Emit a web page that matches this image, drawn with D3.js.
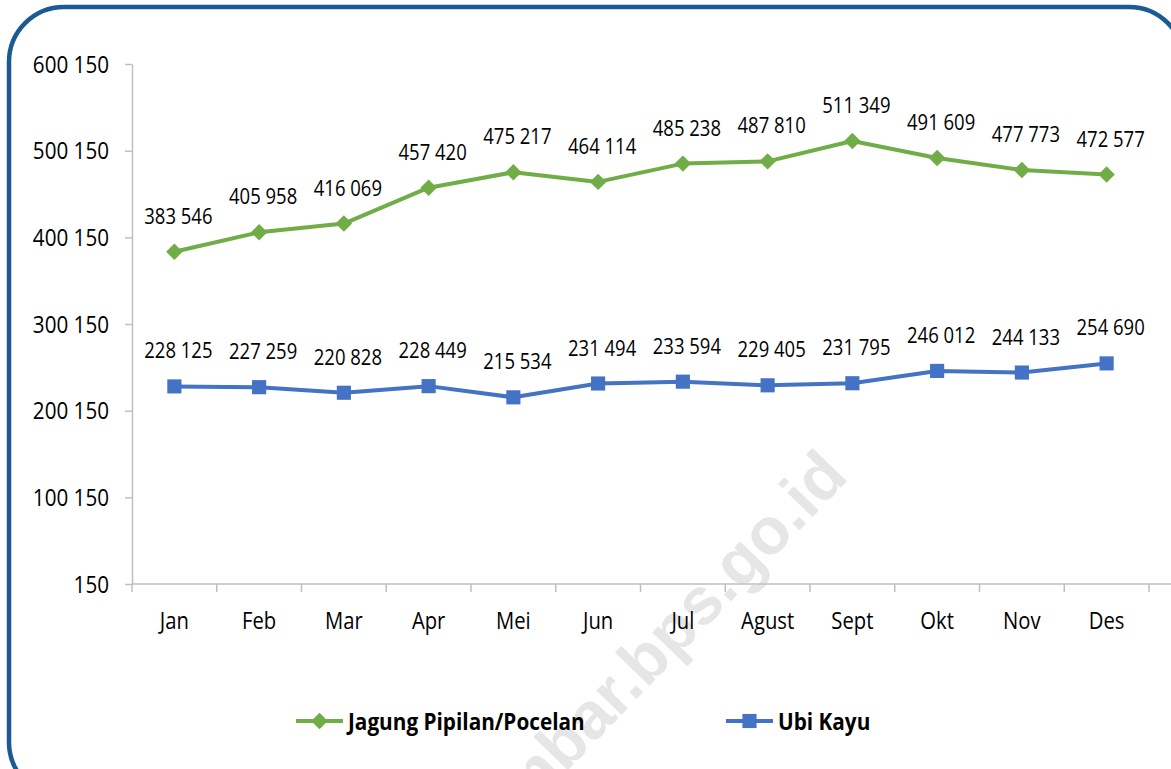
<!DOCTYPE html>
<html><head><meta charset="utf-8">
<script src="https://cdn.jsdelivr.net/npm/d3@7"></script>
<style>
body{margin:0;background:#fff}
svg{display:block}
text{font-family:"Open Sans","Noto Sans",sans-serif}
</style>
</head><body>
<svg id="c" width="1171" height="769"></svg>
<script>
const months = ["Jan","Feb","Mar","Apr","Mei","Jun","Jul","Agust","Sept","Okt","Nov","Des"];
const jagung = [383546,405958,416069,457420,475217,464114,485238,487810,511349,491609,477773,472577];
const ubiKayu = [228125,227259,220828,228449,215534,231494,233594,229405,231795,246012,244133,254690];
const yTicks = [150,100150,200150,300150,400150,500150,600150];
const seriesNames = ["Jagung Pipilan/Pocelan","Ubi Kayu"];

const svg = d3.select("#c");
const W = 1171, H = 769;
const fmt = d3.formatLocale({thousands:" ",grouping:[3],decimal:".",currency:["",""]}).format(",");

function label(g, x, y, txt, anchor, fs, sx, bold) {
  return g.append("text")
    .attr("transform", `translate(${x},${y}) scale(${sx},1)`)
    .attr("text-anchor", anchor)
    .style("font-size", fs + "px")
    .style("font-weight", bold ? "bold" : "normal")
    .attr("fill", "#000").text(txt);
}

// frame
svg.append("rect").attr("x",9).attr("y",7).attr("width",1175).attr("height",790)
  .attr("rx",55).attr("ry",55).attr("fill","#fff").attr("stroke","#1c5a94").attr("stroke-width",4.5);

// watermark
svg.append("text").attr("transform","translate(850,478) rotate(-46)")
  .attr("text-anchor","end")
  .style("font-family","'Liberation Sans',Arial,sans-serif")
  .style("font-weight","bold").style("font-size","66px")
  .attr("fill","#e6e6e6").text("sumbar.bps.go.id");

const x = d3.scaleBand().domain(months).range([132,1149]);
const y = d3.scaleLinear().domain([150,600150]).range([584,64]);
const cx = m => x(m) + x.bandwidth()/2;
const axisColor = "#bfbfbf";

// y axis
const ya = svg.append("g").attr("transform","translate(132,0)")
  .call(d3.axisLeft(y).tickValues(yTicks).tickSize(7).tickSizeOuter(0).tickFormat(""));
ya.select(".domain").attr("stroke",axisColor).attr("stroke-width",1.5);
ya.selectAll(".tick line").attr("stroke",axisColor).attr("stroke-width",1.5);
yTicks.forEach(t => label(svg, 109, y(t) + 8.5, fmt(t), "end", 24, 0.86));

// x axis
svg.append("line").attr("x1",132).attr("x2",W).attr("y1",584).attr("y2",584)
  .attr("stroke",axisColor).attr("stroke-width",1.5);
const edges = months.map(m => x(m)).concat([x(months[months.length-1]) + x.bandwidth()]);
svg.selectAll(".xedge").data(edges).enter().append("line")
  .attr("x1",d=>d).attr("x2",d=>d).attr("y1",584).attr("y2",592)
  .attr("stroke",axisColor).attr("stroke-width",1.5);
months.forEach(m => label(svg, cx(m), 629, m, "middle", 23, 0.88));

const series = [
  {name:seriesNames[0], values:jagung, color:"#70ad47", shape:"diamond"},
  {name:seriesNames[1], values:ubiKayu, color:"#4472c4", shape:"square"}
];
const markerPath = s => s.shape==="diamond"
  ? d3.symbol().type(d3.symbolSquare).size(135)()
  : d3.symbol().type(d3.symbolSquare).size(200)();
const line = d3.line().x((d,i)=>cx(months[i])).y(d=>y(d));

series.forEach(s => {
  svg.append("path").datum(s.values).attr("d",line).attr("fill","none")
    .attr("stroke",s.color).attr("stroke-width",4).attr("stroke-linejoin","round");
  svg.selectAll(null).data(s.values).enter().append("path")
    .attr("transform",(d,i)=>`translate(${cx(months[i])},${y(d)})${s.shape==="diamond"?" rotate(45)":""}`)
    .attr("d", markerPath(s))
    .attr("fill",s.color);
  s.values.forEach((v,i) => label(svg, cx(months[i]) + 4, y(v) - 28, fmt(v), "middle", 21, 0.88));
});

// legend
const leg = [
  {x:296, s:series[0]},
  {x:726, s:series[1]}
];
leg.forEach(l => {
  const g = svg.append("g").attr("transform",`translate(${l.x},721)`);
  g.append("line").attr("x1",0).attr("x2",47).attr("y1",0).attr("y2",0)
    .attr("stroke",l.s.color).attr("stroke-width",4);
  g.append("path").attr("transform",`translate(23.5,0)${l.s.shape==="diamond"?" rotate(45)":""}`)
    .attr("d", markerPath(l.s))
    .attr("fill",l.s.color);
  label(g, 52, 8.5, l.s.name, "start", 24, 0.865, true);
});
</script>
</body></html>
